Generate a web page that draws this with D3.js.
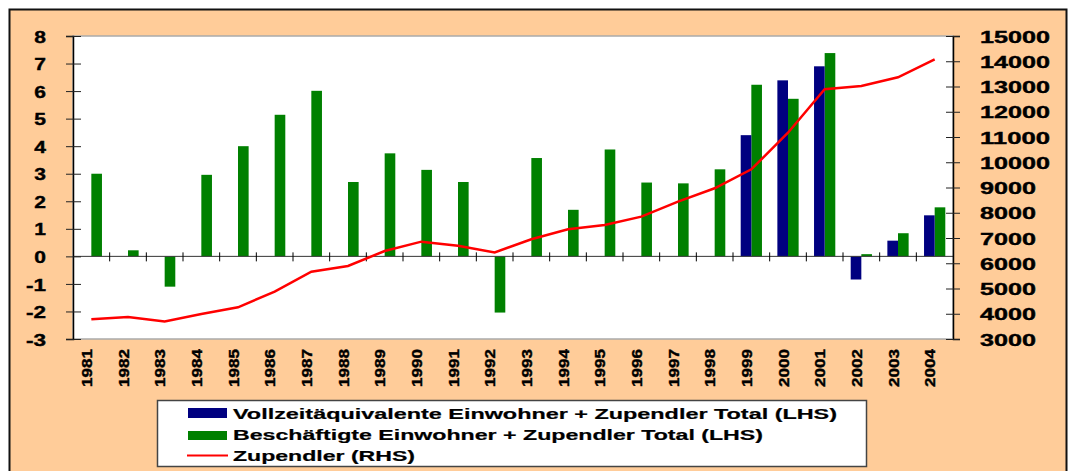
<!DOCTYPE html>
<html><head><meta charset="utf-8">
<script src="https://cdn.jsdelivr.net/npm/d3@7"></script>
<style>body{margin:0;background:#fff;} svg{display:block;}</style>
</head><body>
<svg id="chart" width="1071" height="471"></svg>
<script>
const years = ["1981","1982","1983","1984","1985","1986","1987","1988","1989","1990","1991","1992","1993","1994","1995","1996","1997","1998","1999","2000","2001","2002","2003","2004"];
const vollzeit = [null,null,null,null,null,null,null,null,null,null,null,null,null,null,null,null,null,null,4.4,6.39,6.9,-0.84,0.57,1.49];
const beschaeftigte = [3.0,0.22,-1.1,2.96,4.0,5.14,6.01,2.7,3.74,3.14,2.7,-2.04,3.57,1.69,3.88,2.68,2.65,3.16,6.23,5.72,7.38,0.08,0.84,1.78];
const zupendler = [3780,3870,3690,3990,4255,4875,5665,5890,6485,6855,6695,6430,6950,7345,7515,7845,8440,8970,9720,11170,12890,13020,13365,14075];
const leftTicks = [-3,-2,-1,0,1,2,3,4,5,6,7,8];
const rightTicks = [3000,4000,5000,6000,7000,8000,9000,10000,11000,12000,13000,14000,15000];
const legendLabels = ["Vollzeitäquivalente Einwohner + Zupendler Total (LHS)","Beschäftigte Einwohner + Zupendler Total (LHS)","Zupendler (RHS)"];

const svg = d3.select("#chart");
const L = 73, R = 953, T = 36, B = 339;
const x = d3.scaleBand().domain(years).range([L, R]);
const yL = d3.scaleLinear().domain([-3, 8]).range([B, T]);
const yR = d3.scaleLinear().domain([3000, 15000]).range([B, T]);
const bw = x.bandwidth() * 0.29;
const cx = d => x(d) + x.bandwidth() / 2;
const FONT = "Liberation Sans, Arial, sans-serif";

// outer frame
svg.append("rect").attr("x", 9.5).attr("y", 9.5).attr("width", 1057).attr("height", 480)
  .attr("fill", "#FFCC99").attr("stroke", "#111").attr("stroke-width", 2);
// plot area
svg.append("rect").attr("x", L).attr("y", T).attr("width", R - L).attr("height", B - T)
  .attr("fill", "#fff").attr("stroke", "#aaa").attr("stroke-width", 1.5);

// bars
svg.append("g").selectAll("rect").data(years.map((y, i) => ({y, v: beschaeftigte[i]})))
  .join("rect")
  .attr("x", d => cx(d.y)).attr("width", bw)
  .attr("y", d => yL(Math.max(0, d.v))).attr("height", d => Math.abs(yL(d.v) - yL(0)))
  .attr("fill", "#008000");
svg.append("g").selectAll("rect").data(years.map((y, i) => ({y, v: vollzeit[i]})).filter(d => d.v !== null))
  .join("rect")
  .attr("x", d => cx(d.y) - bw).attr("width", bw)
  .attr("y", d => yL(Math.max(0, d.v))).attr("height", d => Math.abs(yL(d.v) - yL(0)))
  .attr("fill", "#000080");

// zero line
svg.append("line").attr("x1", L).attr("x2", R).attr("y1", yL(0)).attr("y2", yL(0))
  .attr("stroke", "#333").attr("stroke-width", 1);
// category ticks
svg.append("g").selectAll("line").data(years.slice(1)).join("line")
  .attr("x1", d => x(d)).attr("x2", d => x(d))
  .attr("y1", yL(0) - 4).attr("y2", yL(0) + 5)
  .attr("stroke", "#000").attr("stroke-width", 1);

// line
svg.append("path").datum(years.map((y, i) => [cx(y), yR(zupendler[i])]))
  .attr("d", d3.line()).attr("fill", "none").attr("stroke", "#FF0000").attr("stroke-width", 2.5);

// left axis
const gl = svg.append("g").attr("transform", `translate(${L},0)`)
  .call(d3.axisLeft(yL).tickValues(leftTicks).tickSize(7).tickPadding(20).tickFormat(d => String(d)));
gl.select(".domain").attr("stroke", "#000").attr("stroke-width", 1.5);
gl.selectAll(".tick line").attr("x2", -7).attr("x1", 8).attr("stroke", "#222");
gl.selectAll("text").attr("font-family", FONT).attr("font-weight", "bold")
  .attr("font-size", 17).attr("fill", "#000").attr("dy", "0.36em")
  .attr("stroke", "#000").attr("stroke-width", 0.4)
  .attr("textLength", d => d < 0 ? 20 : 11.7).attr("lengthAdjust", "spacingAndGlyphs");

// right axis
const gr = svg.append("g").attr("transform", `translate(${R},0)`)
  .call(d3.axisRight(yR).tickValues(rightTicks).tickSize(7).tickPadding(20).tickFormat(d => String(d)));
gr.select(".domain").attr("stroke", "#000").attr("stroke-width", 1.5);
gr.selectAll(".tick line").attr("x1", -7).attr("x2", 7).attr("stroke", "#222");
gr.selectAll("text").attr("font-family", FONT).attr("font-weight", "bold")
  .attr("font-size", 17).attr("fill", "#000").attr("dy", "0.36em")
  .attr("stroke", "#000").attr("stroke-width", 0.4)
  .attr("textLength", d => String(d).length * 14).attr("lengthAdjust", "spacingAndGlyphs");

// year labels
svg.append("g").selectAll("text").data(years).join("text")
  .attr("transform", d => `translate(${cx(d) + 0.5},349) rotate(-90)`)
  .attr("text-anchor", "end")
  .attr("font-family", FONT).attr("font-weight", "bold").attr("font-size", 15.5)
  .attr("stroke", "#000").attr("stroke-width", 0.4)
  .attr("textLength", 38).attr("lengthAdjust", "spacingAndGlyphs")
  .text(d => d);

// legend
const lg = svg.append("g");
lg.append("rect").attr("x", 157.5).attr("y", 400.5).attr("width", 709).attr("height", 66)
  .attr("fill", "#fff").attr("stroke", "#444").attr("stroke-width", 1.5);
lg.append("rect").attr("x", 188).attr("y", 408).attr("width", 39).attr("height", 10).attr("fill", "#000080");
lg.append("rect").attr("x", 188).attr("y", 431).attr("width", 39).attr("height", 9).attr("fill", "#008000");
lg.append("line").attr("x1", 187).attr("x2", 228).attr("y1", 455.5).attr("y2", 455.5)
  .attr("stroke", "#FF0000").attr("stroke-width", 2);
const legLens = [604, 530, 182];
const legY = [419, 440, 461];
lg.selectAll("text.lt").data(legendLabels).join("text").attr("class", "lt")
  .attr("x", 233).attr("y", (d, i) => legY[i])
  .attr("font-family", FONT).attr("font-weight", "bold").attr("font-size", 14.5)
  .attr("stroke", "#000").attr("stroke-width", 0.2)
  .attr("textLength", (d, i) => legLens[i]).attr("lengthAdjust", "spacingAndGlyphs")
  .text(d => d);
</script>
</body></html>
